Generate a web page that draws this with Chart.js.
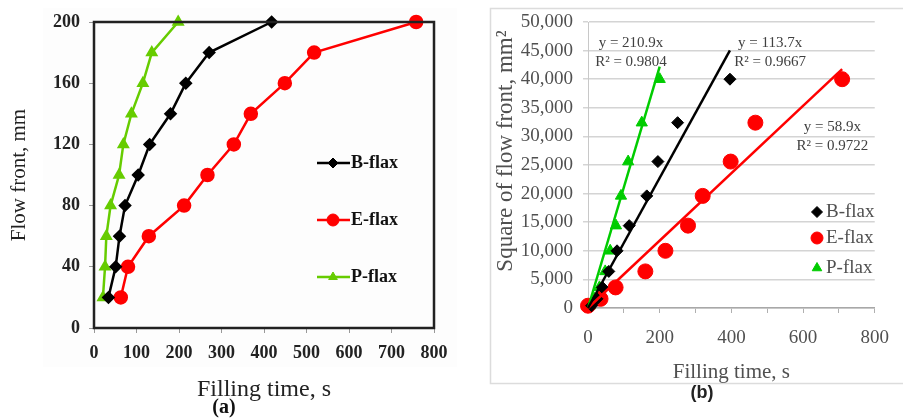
<!DOCTYPE html>
<html>
<head>
<meta charset="utf-8">
<script src="https://cdn.jsdelivr.net/npm/chart.js@4.4.1/dist/chart.umd.min.js"></script>
<style>
body { margin: 0; background: #fff; }
#wrap { position: relative; width: 903px; height: 419px; overflow: hidden; }
#boxA { position: absolute; left: 0; top: 0; width: 470px; height: 419px; }
#boxB { position: absolute; left: 470px; top: 0; width: 433px; height: 419px; }
</style>
</head>
<body>
<div id="wrap">
  <div id="boxA"><canvas id="chartA" width="470" height="419"></canvas></div>
  <div id="boxB"><canvas id="chartB" width="433" height="419"></canvas></div>
</div>
<script>
// ---- data (a): flow front vs filling time
var flowFront = [20, 40, 60, 80, 100, 120, 140, 160, 180, 200];
var timeBa = [34, 51, 60, 73, 104, 131, 180, 216, 271, 418];
var timeEa = [63, 80, 129, 212, 267, 329, 369, 449, 518, 758];
var timePa = [21, 26, 29, 39, 59, 69, 88, 115, 136, 198];

// ---- data (b): square of flow front vs filling time
var squareFront = [400, 1600, 3600, 6400, 10000, 14400, 19600, 25600, 32400, 40000];
var timeBb = [10, 25, 40, 58, 81, 115, 164, 195, 250, 396];
var timeEb = [0, 35, 77, 160, 216, 279, 320, 398, 467, 709];
var timePb = [5, 18, 32, 48, 62, 78, 92, 112, 150, 200];

var seriesNames = ['B-flax', 'E-flax', 'P-flax'];
var slopes = [113.7, 58.9, 210.9];
var rSquared = ['0.9667', '0.9722', '0.9804'];

var serif = "'Liberation Serif', 'Times New Roman', serif";

function pairs(xs, ys) {
  var out = [];
  for (var i = 0; i < xs.length; i++) out.push({ x: xs[i], y: ys[i] });
  return out;
}
function trend(xs, k) {
  var m = Math.max.apply(null, xs);
  return [{ x: 0, y: 0 }, { x: m, y: k * m }];
}

// ---------- chart (a)
var panelA = {
  id: 'panelA',
  beforeDraw: function (chart) {
    var ctx = chart.ctx;
    ctx.save();
    ctx.fillStyle = '#fdfdfd';
    ctx.fillRect(43, 8, 414, 359);
    ctx.restore();
  },
  afterDraw: function (chart) {
    var ctx = chart.ctx, a = chart.chartArea;
    ctx.save();
    ctx.strokeStyle = '#222';
    ctx.lineWidth = 2.5;
    ctx.strokeRect(a.left, a.top, a.right - a.left, a.bottom - a.top);

    // legend inside the plot
    var ys = [163, 220, 277];
    chart.data.datasets.forEach(function (ds, i) {
      var y = ys[i];
      ctx.strokeStyle = ds.borderColor;
      ctx.lineWidth = 2.5;
      ctx.beginPath();
      ctx.moveTo(317, y);
      ctx.lineTo(350, y);
      ctx.stroke();
      ctx.fillStyle = ds.pointBackgroundColor;
      ctx.strokeStyle = ds.borderColor;
      ctx.lineWidth = 1;
      Chart.helpers.drawPoint(ctx, { pointStyle: ds.pointStyle, radius: ds.pointRadius, rotation: 0, borderWidth: 1 }, 333, y);
      ctx.fillStyle = '#111';
      ctx.font = 'bold 18px ' + serif;
      ctx.textBaseline = 'middle';
      ctx.textAlign = 'left';
      ctx.fillText(ds.label, 351, y);
    });

    ctx.font = 'bold 20px ' + serif;
    ctx.textAlign = 'center';
    ctx.fillStyle = '#111';
    ctx.fillText('(a)', 224, 408);
    ctx.restore();
  }
};

new Chart(document.getElementById('chartA'), {
  type: 'line',
  data: {
    datasets: [
      { label: seriesNames[0], data: pairs(timeBa, flowFront), borderColor: '#000', backgroundColor: '#000',
        pointBackgroundColor: '#000', pointStyle: 'rectRot', pointRadius: 5, borderWidth: 2.5, clip: false },
      { label: seriesNames[1], data: pairs(timeEa, flowFront), borderColor: '#ff0000', backgroundColor: '#ff0000',
        pointBackgroundColor: '#ff0000', pointStyle: 'circle', pointRadius: 6, borderWidth: 2.5, clip: false },
      { label: seriesNames[2], data: pairs(timePa, flowFront), borderColor: '#66cc00', backgroundColor: '#66cc00',
        pointBackgroundColor: '#66cc00', pointStyle: 'triangle', pointRadius: 5, borderWidth: 2.5, clip: false }
    ]
  },
  options: {
    responsive: false,
    animation: false,
    layout: { padding: { top: 22, right: 36, bottom: 0, left: 0 } },
    plugins: { legend: { display: false }, tooltip: { enabled: false } },
    scales: {
      x: {
        type: 'linear', min: 0, max: 800,
        ticks: { stepSize: 100, padding: 10, color: '#222', font: { family: serif, size: 18, weight: 'bold' } },
        grid: { drawOnChartArea: false, tickLength: 5, color: '#999' },
        border: { display: false },
        title: { display: true, text: 'Filling time, s', color: '#222', font: { family: serif, size: 24 }, padding: { top: 0, bottom: 15 } },
        afterFit: function (s) { s.height = 91; }
      },
      y: {
        min: 0, max: 200,
        ticks: { stepSize: 40, padding: 9, color: '#222', font: { family: serif, size: 18, weight: 'bold' } },
        grid: { drawOnChartArea: false, tickLength: 5, color: '#999' },
        border: { display: false },
        title: { display: true, text: 'Flow front, mm', color: '#222', font: { family: serif, size: 21 }, padding: { top: 7, bottom: 0 } },
        afterFit: function (s) { s.width = 94; }
      }
    }
  },
  plugins: [panelA]
});

// ---------- chart (b)
var trendLabelPos = [
  { x: 508, y: 46300 },
  { x: 682, y: 31600 },
  { x: 120, y: 46300 }
];

var panelB = {
  id: 'panelB',
  beforeDraw: function (chart) {
    var ctx = chart.ctx;
    ctx.save();
    ctx.strokeStyle = '#dcdcdc';
    ctx.lineWidth = 1.5;
    ctx.strokeRect(20.5, 8.5, 430, 375);
    ctx.restore();
  },
  afterDraw: function (chart) {
    var ctx = chart.ctx, xs = chart.scales.x, ys = chart.scales.y;
    ctx.save();
    // y axis title (sits a little above the axis centre in the original)
    ctx.save();
    ctx.translate(36, 151);
    ctx.rotate(-Math.PI / 2);
    ctx.font = '23px ' + serif;
    ctx.fillStyle = '#505050';
    ctx.textAlign = 'center';
    ctx.textBaseline = 'middle';
    ctx.fillText('Square of flow front, mm\u00b2', 0, 0);
    ctx.restore();

    // trendline equations
    ctx.font = '15px ' + serif;
    ctx.fillStyle = '#404040';
    ctx.textAlign = 'center';
    ctx.textBaseline = 'middle';
    for (var i = 0; i < 3; i++) {
      var px = xs.getPixelForValue(trendLabelPos[i].x);
      var py = ys.getPixelForValue(trendLabelPos[i].y);
      ctx.fillText('y = ' + slopes[i] + 'x', px, py);
      ctx.fillText('R\u00b2 = ' + rSquared[i], px, py + 19);
    }
    // legend
    var ly = [212, 238, 268];
    for (var j = 0; j < 3; j++) {
      var ds = chart.data.datasets[j];
      ctx.fillStyle = ds.backgroundColor;
      ctx.strokeStyle = ds.borderColor;
      ctx.lineWidth = 1;
      var r = ds.pointStyle === 'circle' ? 6 : 5.5;
      Chart.helpers.drawPoint(ctx, { pointStyle: ds.pointStyle, radius: r, rotation: 0, borderWidth: 1 }, 347, ly[j]);
      ctx.fillStyle = '#505050';
      ctx.font = '19px ' + serif;
      ctx.textAlign = 'left';
      ctx.fillText(ds.label, 356, ly[j]);
    }
    ctx.font = "bold 18px 'Liberation Sans', Arial, sans-serif";
    ctx.fillStyle = '#222';
    ctx.textAlign = 'center';
    ctx.fillText('(b)', 232, 393);
    ctx.restore();
  }
};

var bColors = ['#000000', '#ff0000', '#00cc00'];
var bTimes = [timeBb, timeEb, timePb];
var bStyles = ['rectRot', 'circle', 'triangle'];
var bRadius = [6, 7.5, 6.5];
var bSets = [];
for (var k = 0; k < 3; k++) {
  bSets.push({ label: seriesNames[k], data: pairs(bTimes[k], squareFront), backgroundColor: bColors[k], borderColor: bColors[k],
    pointStyle: bStyles[k], pointRadius: bRadius[k], borderWidth: 1, clip: false, order: 2 });
}
for (var m = 0; m < 3; m++) {
  bSets.push({ label: 'trend ' + seriesNames[m], data: trend(bTimes[m], slopes[m]), showLine: true, borderColor: bColors[m],
    backgroundColor: bColors[m], borderWidth: 2.5, pointRadius: 0, clip: false, order: 1 });
}

new Chart(document.getElementById('chartB'), {
  type: 'scatter',
  data: { datasets: bSets },
  options: {
    responsive: false,
    animation: false,
    layout: { padding: { top: 22, right: 16, bottom: 0, left: 0 } },
    plugins: { legend: { display: false }, tooltip: { enabled: false } },
    scales: {
      x: {
        type: 'linear', min: 0, max: 800,
        ticks: { stepSize: 100, padding: 14, color: '#505050', font: { family: serif, size: 19 },
          callback: function (v) { return v % 200 === 0 ? String(v) : ''; } },
        grid: { drawOnChartArea: false, tickLength: 5, color: '#b0b0b0' },
        border: { display: true, color: '#a8a8a8', width: 1.5 },
        title: { display: true, text: 'Filling time, s', color: '#505050', font: { family: serif, size: 21 }, padding: { top: 0, bottom: 34 } },
        afterFit: function (s) { s.height = 111; }
      },
      y: {
        min: 0, max: 50000,
        ticks: { stepSize: 5000, padding: 10, color: '#505050', font: { family: serif, size: 19 },
          callback: function (v) { return v.toLocaleString('en-US'); } },
        grid: { color: '#d4d4d4', lineWidth: 1.5, tickLength: 5 },
        border: { display: true, color: '#c8c8c8', width: 1 },
        afterFit: function (s) { s.width = 118; }
      }
    }
  },
  plugins: [panelB]
});
</script>
</body>
</html>
